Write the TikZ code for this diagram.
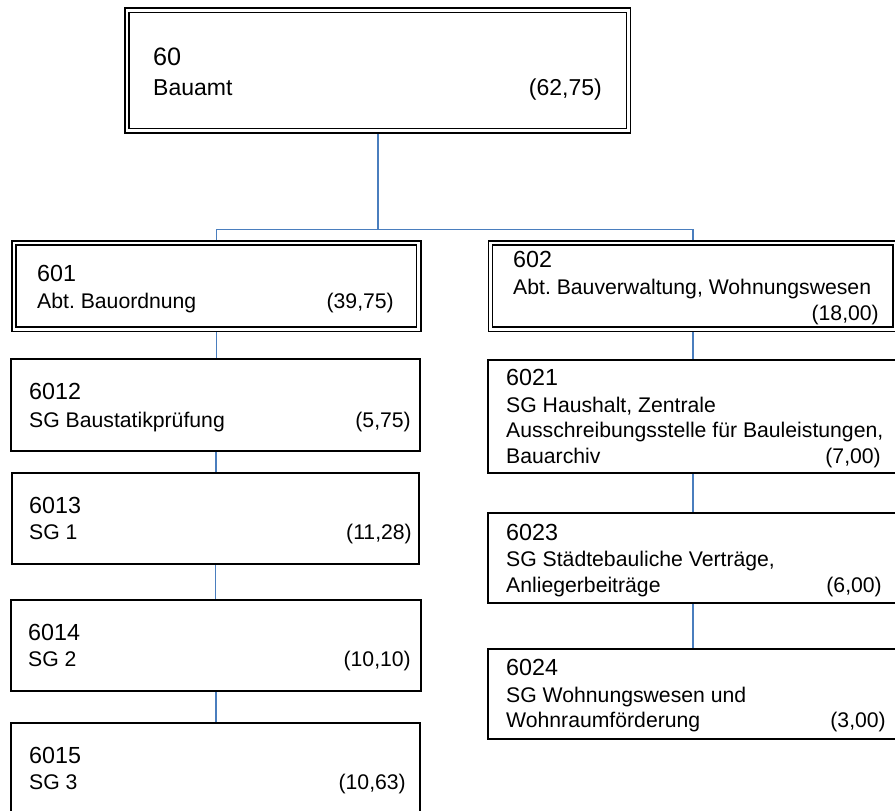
\documentclass[tikz,border=0pt]{standalone}
\usepackage{fontspec}
\setmainfont{Liberation Sans}
\frenchspacing
\usetikzlibrary{backgrounds}
\definecolor{connblue}{RGB}{74,126,190}
\begin{document}
\begin{tikzpicture}[x=1pt,y=-1pt,
  dbox/.style={draw=black, fill=white, line width=1.5pt, double=white, double distance=2.9pt, rectangle, inner sep=0pt},
  sbox/.style={draw=black, fill=white, line width=1.8pt, rectangle, inner sep=0pt},
  conn/.style={draw=connblue, line width=1.6pt},
  bignum/.style={font=\fontsize{25.2}{30}\selectfont, anchor=base west, inner sep=0pt},
  bigtxt/.style={font=\fontsize{23}{28}\selectfont, anchor=base west, inner sep=0pt},
  bigval/.style={font=\fontsize{23}{28}\selectfont, anchor=base east, inner sep=0pt},
  num/.style={font=\fontsize{23.3}{28}\selectfont, anchor=base west, inner sep=0pt},
  txt/.style={font=\fontsize{21.2}{26}\selectfont, anchor=base west, inner sep=0pt},
  val/.style={font=\fontsize{21.2}{26}\selectfont, anchor=base east, inner sep=0pt}]
\useasboundingbox (0,0) rectangle (895,811);

% boxes
\node[dbox, minimum width=501.5pt, minimum height=120.5pt] (b60) at (377.75,70.5) {};
\node[dbox, minimum width=404.7pt, minimum height=86.2pt] (b601) at (216.3,286.1) {};
\node[dbox, minimum width=404.5pt, minimum height=86.3pt] (b602) at (692.75,286.1) {};
\node[sbox, minimum width=408.7pt, minimum height=91.4pt] (b6012) at (215.7,405) {};
\node[sbox, minimum width=407pt, minimum height=90.7pt] (b6013) at (215.5,518.7) {};
\node[sbox, minimum width=410pt, minimum height=90.7pt] (b6014) at (216,645.3) {};
\node[sbox, minimum width=409pt, minimum height=92pt] (b6015) at (215.7,768.7) {};
\node[sbox, minimum width=410pt, minimum height=113.3pt] (b6021) at (693,416.7) {};
\node[sbox, minimum width=410pt, minimum height=90.7pt] (b6023) at (693,558) {};
\node[sbox, minimum width=410pt, minimum height=90pt] (b6024) at (693,694.3) {};

% connectors
\begin{scope}[on background layer]
\coordinate (j) at (377.75,229.3);
\draw[conn] (b60.south) -- (j);
\draw[conn] (j) -| (b601.north);
\draw[conn] (j) -| (b602.north);
\draw[conn] (b601.south) -- (b601.south |- b6012.north);
\draw[conn] (b6012.south) -- (b6012.south |- b6013.north);
\draw[conn] (b6013.south) -- (b6013.south |- b6014.north);
\draw[conn] (b6014.south) -- (b6014.south |- b6015.north);
\draw[conn] (b602.south) -- (b602.south |- b6021.north);
\draw[conn] (b6021.south) -- (b6021.south |- b6023.north);
\draw[conn] (b6023.south) -- (b6023.south |- b6024.north);
\end{scope}

% texts
\node[bignum] (t60a) at (153,65) {60};
\node[bigtxt] (t60b) at (153,95) {Bauamt};
\node[bigval] (t60c) at (602,95) {(62,75)};

\node[num] (t601a) at (37,281) {601};
\node[txt] (t601b) at (37,308) {Abt. Bauordnung};
\node[val] (t601c) at (394,308) {(39,75)};

\node[num] (t602a) at (513,267) {602};
\node[txt] (t602b) at (513,294) {Abt. Bauverwaltung, Wohnungswesen};
\node[val] (t602c) at (879,320) {(18,00)};

\node[num] (t6012a) at (29,399) {6012};
\node[txt] (t6012b) at (29,427) {SG Baustatikprüfung};
\node[val] (t6012c) at (411,427) {(5,75)};

\node[num] (t6013a) at (29,513) {6013};
\node[txt] (t6013b) at (29,539) {SG 1};
\node[val] (t6013c) at (412,539) {(11,28)};

\node[num] (t6014a) at (28,640) {6014};
\node[txt] (t6014b) at (28,666) {SG 2};
\node[val] (t6014c) at (411,666) {(10,10)};

\node[num] (t6015a) at (29,763) {6015};
\node[txt] (t6015b) at (29,789) {SG 3};
\node[val] (t6015c) at (406,789) {(10,63)};

\node[num] (t6021a) at (506,385) {6021};
\node[txt] (t6021b) at (506,412) {SG Haushalt, Zentrale};
\node[txt] (t6021c) at (506,437) {Ausschreibungsstelle für Bauleistungen,};
\node[txt] (t6021d) at (506,463) {Bauarchiv};
\node[val] (t6021e) at (881,463) {(7,00)};

\node[num] (t6023a) at (506,540) {6023};
\node[txt] (t6023b) at (506,566) {SG Städtebauliche Verträge,};
\node[txt] (t6023c) at (506,592) {Anliegerbeiträge};
\node[val] (t6023d) at (882,592) {(6,00)};

\node[num] (t6024a) at (506,675) {6024};
\node[txt] (t6024b) at (506,702) {SG Wohnungswesen und};
\node[txt] (t6024c) at (506,727) {Wohnraumförderung};
\node[val] (t6024d) at (886,727) {(3,00)};
\end{tikzpicture}
\end{document}
